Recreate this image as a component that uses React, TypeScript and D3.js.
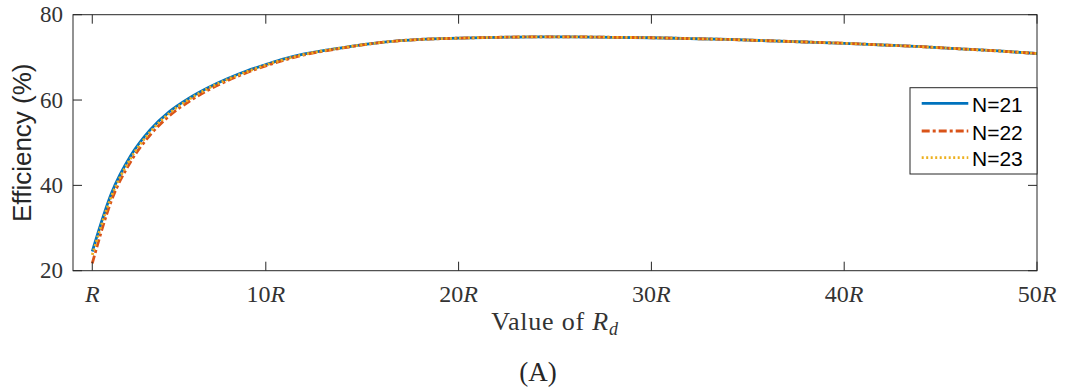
import React, { useRef, useEffect } from "react";
import * as d3 from "d3";

// sampled positions of R_d (multiples of R)
const rdValues = [1, 2, 3, 4, 5, 6, 7, 8, 9, 10, 11, 12, 14, 16, 18, 20, 22, 24, 26, 28, 30, 32, 34, 36, 38, 40, 42, 44, 46, 48, 50];

const effN21 = [24.5, 38.2, 47.0, 53.0, 57.3, 60.4, 62.9, 65.0, 66.8, 68.3, 69.7, 70.8, 72.3, 73.5, 74.2, 74.5, 74.7, 74.8, 74.8, 74.7, 74.6, 74.4, 74.2, 73.9, 73.6, 73.3, 72.9, 72.5, 72.0, 71.5, 70.9];
const effN22 = [21.7, 36.5, 45.6, 51.8, 56.3, 59.6, 62.3, 64.5, 66.4, 68.0, 69.4, 70.6, 72.2, 73.5, 74.2, 74.5, 74.7, 74.8, 74.8, 74.7, 74.6, 74.4, 74.2, 73.9, 73.6, 73.3, 72.9, 72.5, 72.0, 71.5, 70.9];
const effN23 = [23.7, 37.5, 46.4, 52.5, 56.9, 60.1, 62.7, 64.8, 66.6, 68.2, 69.6, 70.7, 72.3, 73.5, 74.2, 74.5, 74.7, 74.8, 74.8, 74.7, 74.6, 74.4, 74.2, 73.9, 73.6, 73.3, 72.9, 72.5, 72.0, 71.5, 70.9];

const seriesNames = ["N=21", "N=22", "N=23"];
const xTicks = [1, 10, 20, 30, 40, 50];
const xTickLabels = ["", "10", "20", "30", "40", "50"];
const yTicks = [20, 40, 60, 80];

export default function App() {
  const ref = useRef<SVGSVGElement>(null);

  useEffect(() => {
    const svg = d3.select(ref.current);
    svg.selectAll("*").remove();

    const left = 73, right = 1037, top = 14.7, bottom = 270.7;
    const axisColor = "#262626";
    const serif = "'Liberation Serif', 'Times New Roman', serif";
    const sans = "'Liberation Sans', Arial, sans-serif";

    const x = d3.scaleLinear().domain([0, 50]).range([left, right]);
    const y = d3.scaleLinear().domain([20, 80]).range([bottom, top]);

    const series = [
      { name: seriesNames[0], values: effN21, color: "#0072BD", dash: null },
      { name: seriesNames[1], values: effN22, color: "#D95319", dash: "8,3,3,3" },
      { name: seriesNames[2], values: effN23, color: "#EDB120", dash: "2,2.5" },
    ];

    const line = d3
      .line<number>()
      .x((_, i) => x(rdValues[i]))
      .y((d) => y(d))
      .curve(d3.curveMonotoneX);

    series.forEach((s) => {
      svg
        .append("path")
        .attr("d", line(s.values))
        .attr("fill", "none")
        .attr("stroke", s.color)
        .attr("stroke-width", 2.8)
        .attr("stroke-dasharray", s.dash);
    });

    // axes box
    svg
      .append("rect")
      .attr("x", left)
      .attr("y", top)
      .attr("width", right - left)
      .attr("height", bottom - top)
      .attr("fill", "none")
      .attr("stroke", axisColor)
      .attr("stroke-width", 1);

    const tickLen = 9;
    // x ticks (inward, top and bottom)
    xTicks.forEach((t, i) => {
      svg.append("line")
        .attr("x1", x(t)).attr("x2", x(t))
        .attr("y1", bottom).attr("y2", bottom - tickLen)
        .attr("stroke", axisColor);
      svg.append("line")
        .attr("x1", x(t)).attr("x2", x(t))
        .attr("y1", top).attr("y2", top + tickLen)
        .attr("stroke", axisColor);
      const label = svg.append("text")
        .attr("x", x(t))
        .attr("y", 301.5)
        .attr("text-anchor", "middle")
        .style("font-family", serif)
        .style("font-size", "24px")
        .attr("fill", "#333");
      label.append("tspan").text(xTickLabels[i]);
      label.append("tspan").style("font-style", "italic").text("R");
    });

    // y ticks (inward, left and right)
    yTicks.forEach((t) => {
      svg.append("line")
        .attr("x1", left).attr("x2", left + tickLen)
        .attr("y1", y(t)).attr("y2", y(t))
        .attr("stroke", axisColor);
      svg.append("line")
        .attr("x1", right).attr("x2", right - tickLen)
        .attr("y1", y(t)).attr("y2", y(t))
        .attr("stroke", axisColor);
      svg.append("text")
        .attr("x", left - 10)
        .attr("y", y(t))
        .attr("dy", "0.33em")
        .attr("text-anchor", "end")
        .style("font-family", serif)
        .style("font-size", "23px")
        .attr("fill", "#333")
        .text(t);
    });

    // y axis title
    svg.append("text")
      .attr("transform", `translate(31, ${(top + bottom) / 2}) rotate(-90)`)
      .attr("text-anchor", "middle")
      .style("font-family", sans)
      .style("font-size", "26px")
      .attr("fill", "#262626")
      .text("Efficiency (%)");

    // x axis title
    const xt = svg.append("text")
      .attr("x", (left + right) / 2)
      .attr("y", 330)
      .attr("text-anchor", "middle")
      .style("font-family", serif)
      .style("font-size", "26px")
      .style("letter-spacing", "0.8px")
      .attr("fill", "#333");
    xt.append("tspan").text("Value of ");
    xt.append("tspan").style("font-style", "italic").text("R");
    xt.append("tspan").style("font-style", "italic").style("font-size", "18px").attr("dy", 5).text("d");

    // caption
    svg.append("text")
      .attr("x", 538)
      .attr("y", 381)
      .attr("text-anchor", "middle")
      .style("font-family", serif)
      .style("font-size", "27px")
      .attr("fill", "#262626")
      .text("(A)");

    // legend
    const lg = svg.append("g");
    lg.append("rect")
      .attr("x", 910)
      .attr("y", 87.7)
      .attr("width", right - 910)
      .attr("height", 174 - 87.7)
      .attr("fill", "white")
      .attr("stroke", axisColor)
      .attr("stroke-width", 1);
    const legendY = [103.3, 131, 157.7];
    series.forEach((s, i) => {
      lg.append("line")
        .attr("x1", 921.7).attr("x2", 968.3)
        .attr("y1", legendY[i]).attr("y2", legendY[i])
        .attr("stroke", s.color)
        .attr("stroke-width", 2.8)
        .attr("stroke-dasharray", s.dash);
      lg.append("text")
        .attr("x", 972)
        .attr("y", legendY[i] + 8.5)
        .style("font-family", sans)
        .style("font-size", "21px")
        .attr("fill", "#000")
        .text(s.name);
    });
  }, []);

  return (
    <svg
      ref={ref}
      width={1067}
      height={389}
      style={{ position: "absolute", left: 0, top: 0, background: "white" }}
    ></svg>
  );
}
